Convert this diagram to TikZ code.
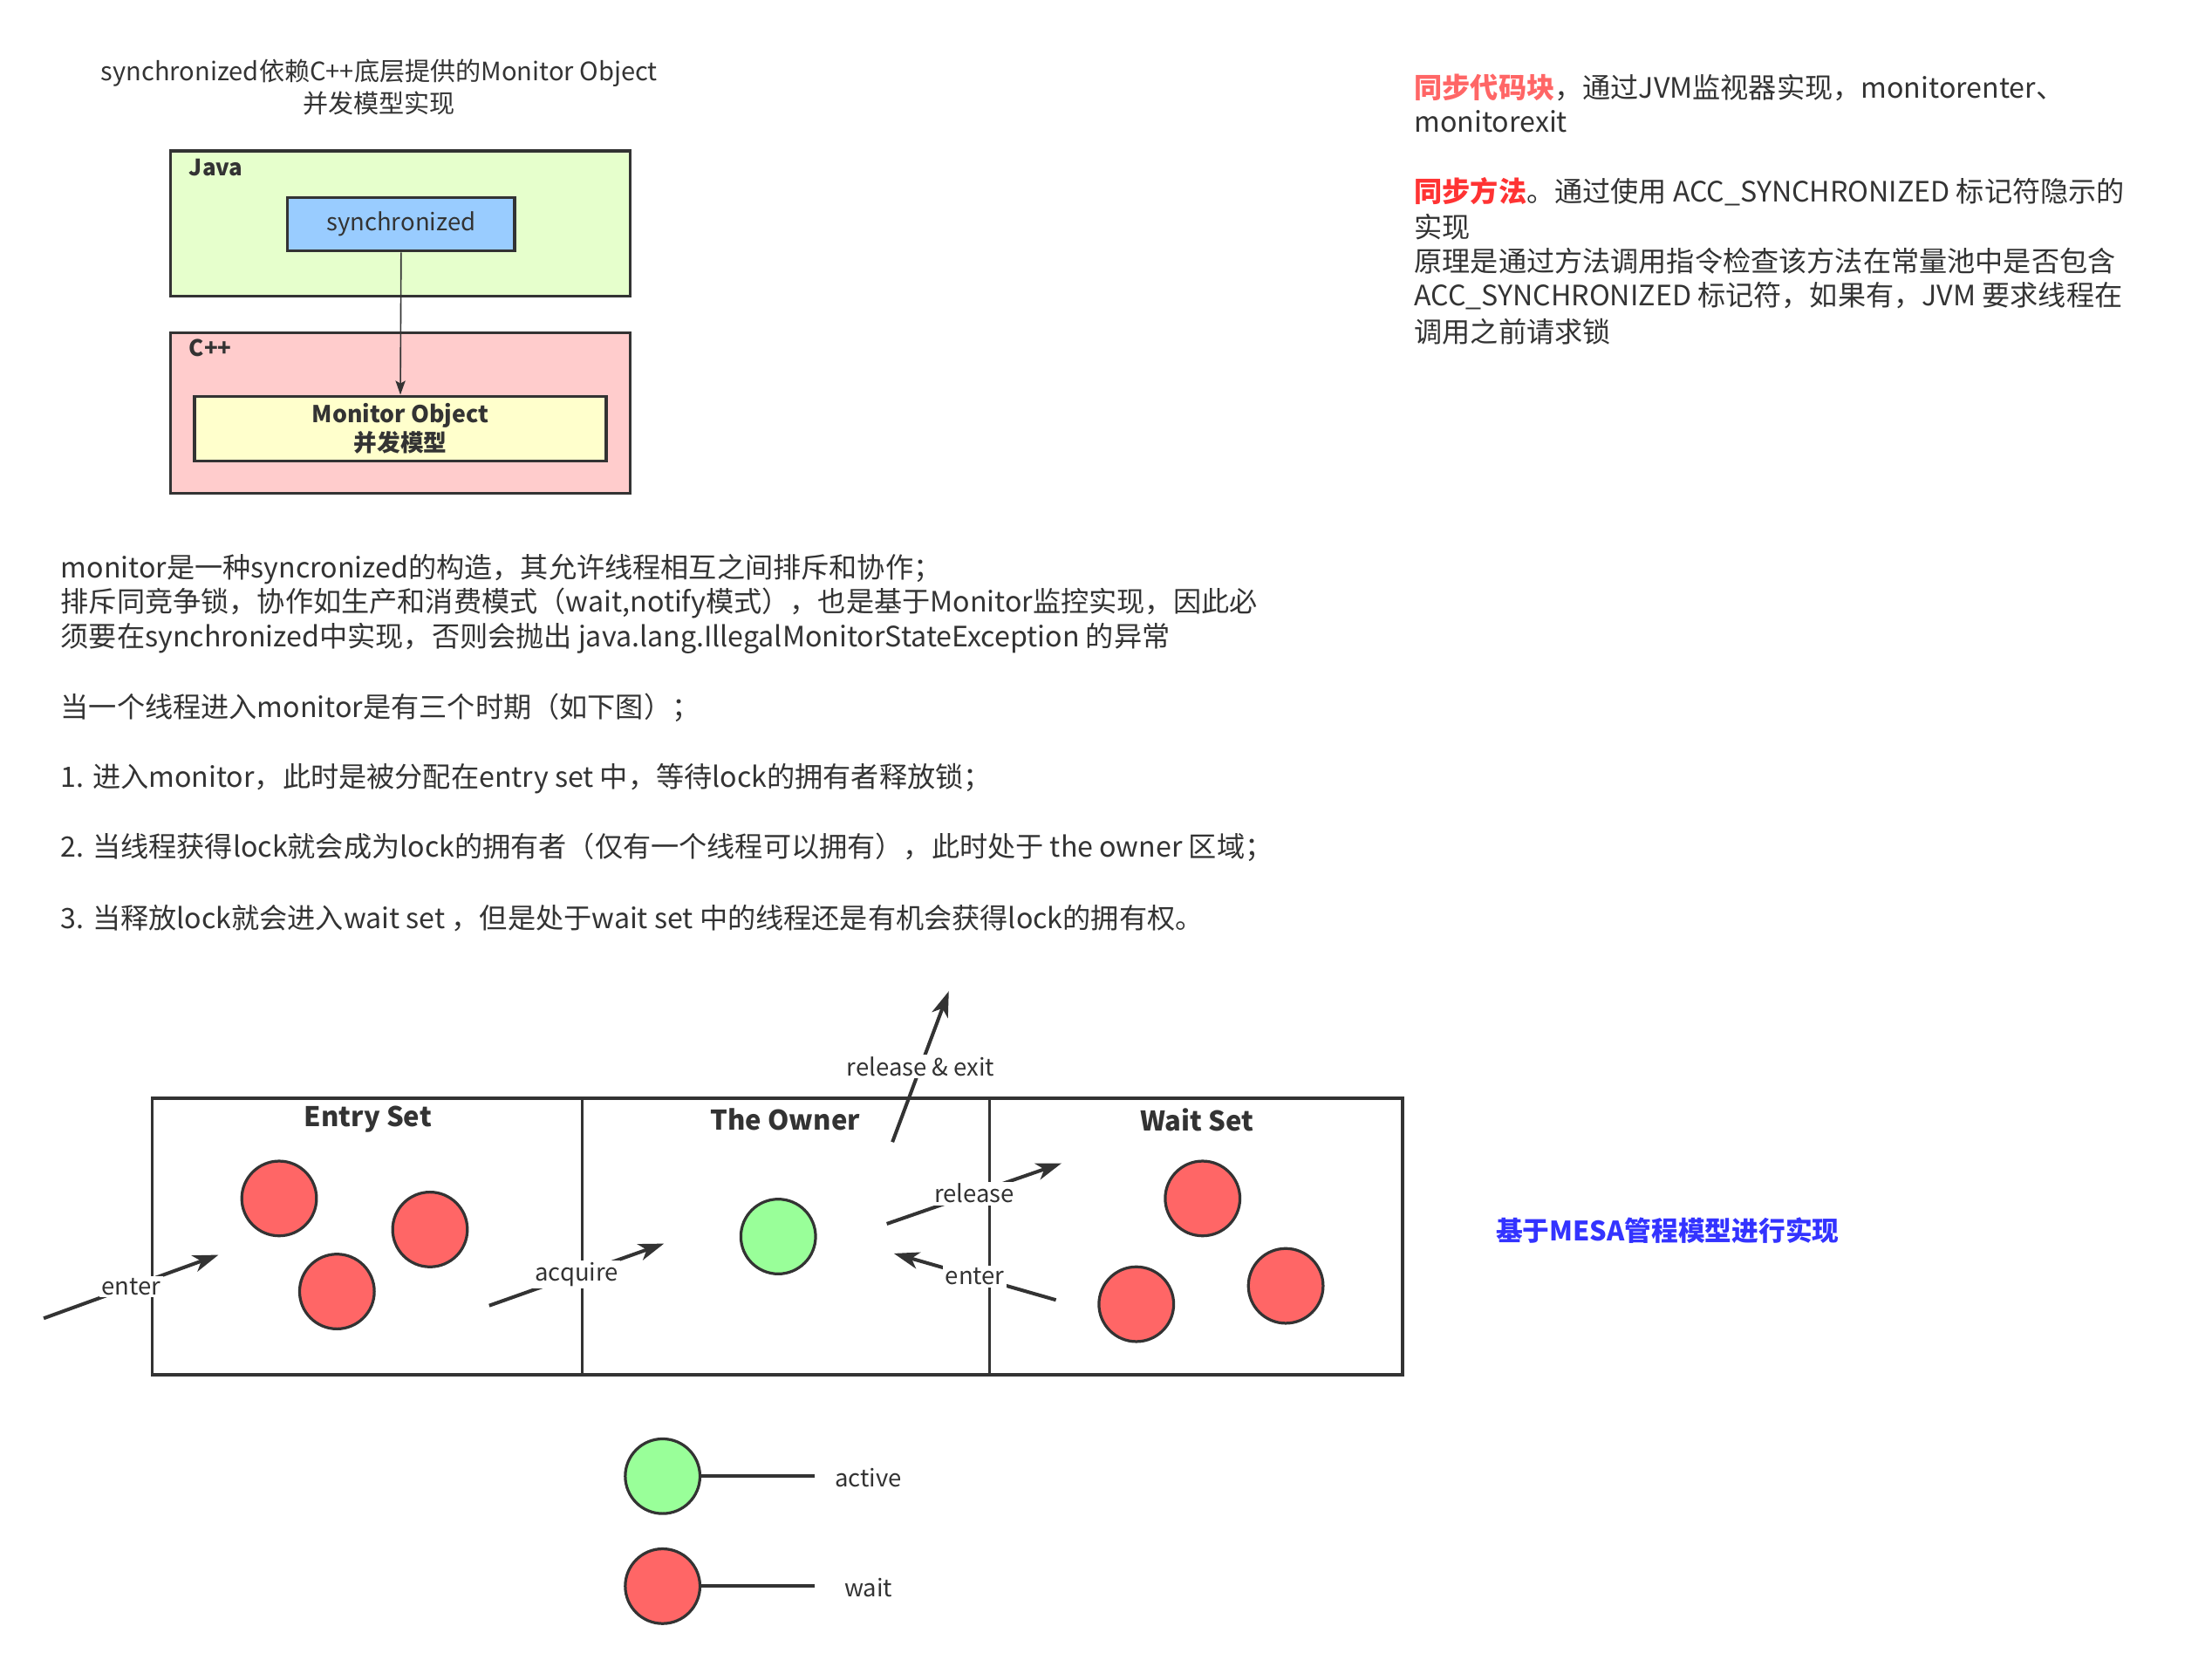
\documentclass[tikz,border=0pt]{standalone}
\usepackage{fontspec}
\setmainfont{Noto Sans CJK SC}
\usetikzlibrary{arrows.meta}
\definecolor{txt}{HTML}{333333}
\definecolor{javag}{HTML}{E6FFCC}
\definecolor{synb}{HTML}{99CCFF}
\definecolor{cppr}{HTML}{FFCCCC}
\definecolor{monit}{HTML}{FFFFCC}
\definecolor{redA}{HTML}{FF6666}
\definecolor{redB}{HTML}{FF3333}
\definecolor{wred}{HTML}{FF6666}
\definecolor{agreen}{HTML}{99FF99}
\definecolor{mesa}{HTML}{3333FF}
\begin{document}
\begin{tikzpicture}[x=1pt,y=-1pt,
  every node/.style={text=txt, inner sep=0pt},
  fs17/.style={font=\fontsize{17}{20}\selectfont},
  fs20/.style={font=\fontsize{19.9}{24}\selectfont},
  line/.style={anchor=west, fs20},
  box/.style={draw=txt, line width=2pt, minimum width=#1},
  flow/.style={draw=txt, line width=2.5pt, -{Stealth[length=18pt,width=12pt,inset=5pt]}},
  lbl/.style={fill=white, inner sep=1.5pt, fs17},
  wcirc/.style={circle, draw=txt, line width=2pt, fill=wred, minimum size=53pt},
  acirc/.style={circle, draw=txt, line width=2pt, fill=agreen, minimum size=53pt},
  settitle/.style={font=\fontsize{19.2}{23}\selectfont\bfseries}
]
\useasboundingbox (0,0) rectangle (1569,1182.3);

% ---- top-left model ----
\node[font=\fontsize{18}{21}\selectfont] (t1) at (269,52) {synchronized依赖C++底层提供的Monitor Object};
\node[font=\fontsize{18}{21}\selectfont] (t2) at (269,73) {并发模型实现};

\node[box=326pt, minimum height=103pt, fill=javag] (java) at (284,158.5) {};
\node[anchor=west, font=\fontsize{16}{19}\selectfont\bfseries] (javal) at (134,119) {Java};
\node[box=161pt, minimum height=38pt, fill=synb, fs17] (syn) at (284.5,159) {synchronized};

\node[box=326pt, minimum height=114pt, fill=cppr] (cpp) at (284,293) {};
\node[anchor=west, font=\fontsize{16}{19}\selectfont\bfseries] (cppl) at (134,247) {C++};
\node[box=292pt, minimum height=46pt, fill=monit, align=center, font=\fontsize{16.5}{20}\selectfont\bfseries] (mon) at (284,304) {Monitor Object\\并发模型};

\draw[draw=txt, line width=1pt, -{Stealth[length=10pt,width=7pt,inset=2pt]}] (syn.south) -- (mon.north);

% ---- right text ----
\node[line] (r1) at (1003,62) {{\bfseries\color{redA}同步代码块}，通过JVM监视器实现，monitorenter、};
\node[line] (r2) at (1003,86) {monitorexit};
\node[line] (r3) at (1003,136) {{\bfseries\color{redB}同步方法}。通过使用 ACC\_SYNCHRONIZED 标记符隐示的};
\node[line] (r4) at (1003,161) {实现};
\node[line] (r5) at (1003,185) {原理是通过方法调用指令检查该方法在常量池中是否包含};
\node[line] (r6) at (1003,210) {ACC\_SYNCHRONIZED 标记符，如果有，JVM 要求线程在};
\node[line] (r7) at (1003,235) {调用之前请求锁};

% ---- body text ----
\node[line] (b1) at (43,404) {monitor是一种syncronized的构造，其允许线程相互之间排斥和协作；};
\node[line] (b2) at (43,428) {排斥同竞争锁，协作如生产和消费模式（wait,notify模式），也是基于Monitor监控实现，因此必};
\node[line] (b3) at (43,453) {须要在synchronized中实现，否则会抛出 java.lang.IllegalMonitorStateException 的异常};
\node[line] (b4) at (43,502) {当一个线程进入monitor是有三个时期（如下图）；};
\node[line] (b5) at (43,552) {1. 进入monitor，此时是被分配在entry set 中，等待lock的拥有者释放锁；};
\node[line] (b6) at (43,601) {2. 当线程获得lock就会成为lock的拥有者（仅有一个线程可以拥有），此时处于 the owner 区域；};
\node[line] (b7) at (43,651) {3. 当释放lock就会进入wait set ，但是处于wait set 中的线程还是有机会获得lock的拥有权。};

% ---- monitor diagram ----
\coordinate (bl) at (108,779);
\coordinate (br) at (995,975);
\draw[draw=txt, line width=2.2pt] (bl) rectangle (br);
\coordinate (d1t) at (413,779); \coordinate (d1b) at (413,975);
\coordinate (d2t) at (702,779); \coordinate (d2b) at (702,975);
\draw[draw=txt, line width=2pt] (d1t) -- (d1b);
\draw[draw=txt, line width=2pt] (d2t) -- (d2b);

\node[settitle] (ent) at (261,794) {Entry Set};
\node[settitle] (own) at (557,794) {The Owner};
\node[settitle] (wai) at (849,794) {Wait Set};

\node[wcirc] (e1) at (198,850) {};
\node[wcirc] (e2) at (305,872) {};
\node[wcirc] (e3) at (239,916) {};
\node[acirc] (o1) at (552,877) {};
\node[wcirc] (w1) at (853,850) {};
\node[wcirc] (w2) at (806,925) {};
\node[wcirc] (w3) at (912,912) {};

\coordinate (a1s) at (31,935);  \coordinate (a1e) at (155,890);
\coordinate (a2s) at (347,926); \coordinate (a2e) at (471,882);
\coordinate (a3s) at (633,810); \coordinate (a3e) at (673,703);
\coordinate (a4s) at (629,868); \coordinate (a4e) at (753,825);
\coordinate (a5s) at (749,922); \coordinate (a5e) at (634,889);

\draw[flow] (a1s) -- node[lbl] (l1) {enter} (a1e);
\draw[flow] (a2s) -- node[lbl] (l2) {acquire} (a2e);
\draw[flow] (a3s) -- node[lbl] (l3) {release \& exit} (a3e);
\draw[flow] (a4s) -- node[lbl] (l4) {release} (a4e);
\draw[flow] (a5s) -- node[lbl] (l5) {enter} (a5e);

% ---- legend ----
\node[acirc] (lg1) at (470,1047) {};
\coordinate (lg1e) at (578,1047);
\draw[draw=txt, line width=2.5pt] (lg1.east) -- (lg1e);
\node[fs17] (lg1t) at (616,1048) {active};
\node[wcirc] (lg2) at (470,1125) {};
\coordinate (lg2e) at (578,1125);
\draw[draw=txt, line width=2.5pt] (lg2.east) -- (lg2e);
\node[fs17] (lg2t) at (616,1126) {wait};

% ---- MESA note ----
\node[anchor=west, text=mesa, font=\fontsize{19}{22}\selectfont\bfseries] (mesa) at (1061,873) {基于MESA管程模型进行实现};
\end{tikzpicture}
\end{document}
